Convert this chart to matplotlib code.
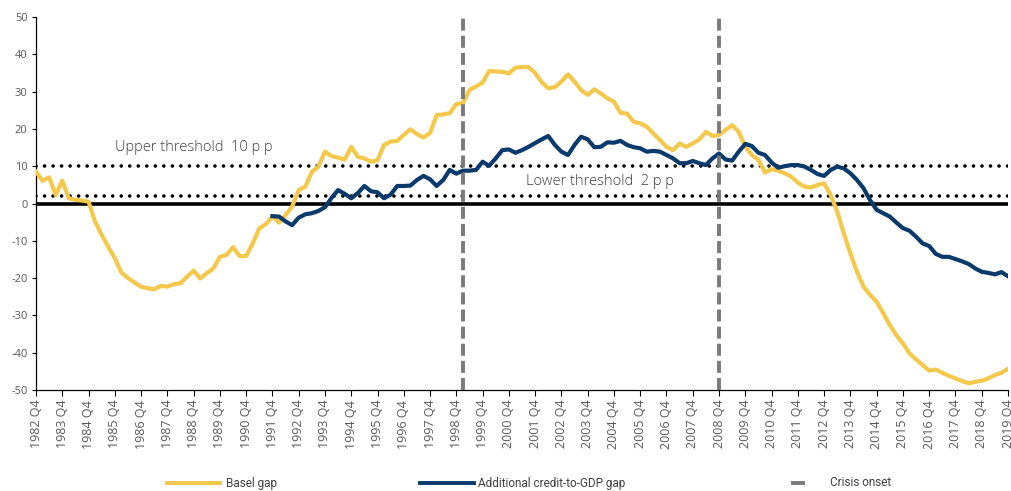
import numpy as np
import matplotlib.pyplot as plt
from matplotlib.lines import Line2D

plt.rcParams['axes.unicode_minus'] = False
plt.rcParams['font.family'] = ['Open Sans', 'DejaVu Sans']

# quarterly data, first point is 1982 Q4
start_year = 1982
basel_gap = [
    8.5, 6.1, 7.0, 2.3, 6.1, 1.4, 1.0, 0.8, 0.5, -4.9,
    -8.4, -11.6, -14.7, -18.5, -20.0, -21.2, -22.3, -22.7, -23.0, -22.1,
    -22.3, -21.6, -21.4, -19.6, -18.0, -20.1, -18.7, -17.4, -14.3, -13.8,
    -11.7, -14.1, -14.1, -10.7, -6.7, -5.5, -3.5, -5.1, -3.1, -0.8,
    3.6, 4.5, 8.5, 9.9, 13.9, 12.7, 12.3, 11.8, 15.2, 12.5,
    12.1, 11.2, 11.6, 15.7, 16.6, 16.8, 18.4, 19.9, 18.6, 17.7,
    18.9, 23.7, 23.9, 24.2, 26.7, 26.9, 30.4, 31.4, 32.4, 35.5,
    35.4, 35.3, 34.9, 36.4, 36.6, 36.6, 35.0, 32.5, 30.9, 31.2,
    32.7, 34.6, 32.7, 30.4, 29.1, 30.6, 29.5, 28.2, 27.3, 24.3,
    24.1, 21.9, 21.5, 20.6, 18.8, 17.0, 15.2, 14.3, 16.1, 15.2,
    16.1, 17.2, 19.2, 18.1, 18.4, 19.7, 21.0, 19.2, 15.2, 13.0,
    11.7, 8.3, 9.2, 8.8, 8.1, 7.2, 5.6, 4.5, 4.3, 5.0,
    5.4, 2.3, -2.2, -8.0, -13.4, -18.3, -22.3, -24.5, -26.3, -29.4,
    -32.6, -35.3, -37.5, -40.2, -41.8, -43.3, -44.8, -44.5, -45.4, -46.2,
    -46.9, -47.6, -48.2, -47.8, -47.5, -46.9, -46.0, -45.4, -44.3,
]

# starts 1991 Q4
additional_start = 36
additional_gap = [
    -3.4, -3.5, -4.8, -5.8, -3.8, -2.9, -2.6, -2.0, -1.0, 1.5,
    3.6, 2.6, 1.4, 2.8, 4.7, 3.3, 3.0, 1.4, 2.4, 4.7,
    4.7, 4.8, 6.3, 7.4, 6.5, 4.7, 6.3, 9.0, 8.0, 8.8,
    8.8, 9.0, 11.2, 10.1, 12.1, 14.3, 14.5, 13.6, 14.3, 15.2,
    16.2, 17.2, 18.1, 15.7, 13.9, 13.0, 15.7, 17.9, 17.2, 15.1,
    15.2, 16.4, 16.3, 16.8, 15.7, 15.1, 14.8, 13.9, 14.1, 13.9,
    13.0, 12.1, 10.8, 10.8, 11.4, 10.8, 10.3, 12.1, 13.4, 11.8,
    11.5, 13.9, 16.0, 15.4, 13.6, 13.0, 11.0, 9.6, 10.0, 10.3,
    10.3, 9.9, 9.0, 7.9, 7.4, 9.0, 9.9, 9.4, 8.1, 6.3,
    4.1, 0.9, -1.7, -2.6, -3.5, -5.1, -6.6, -7.3, -8.9, -10.7,
    -11.4, -13.5, -14.3, -14.3, -14.9, -15.5, -16.2, -17.4, -18.3, -18.6,
    -19.0, -18.4, -19.5,
]

upper_threshold = 10
lower_threshold = 2
crisis_onsets = ['1999 Q1', '2008 Q4']

n = len(basel_gap)
quarters = [f"{start_year + (i + 3) // 4} Q{(i + 3) % 4 + 1}" for i in range(n)]
x = np.arange(n)
x_add = np.arange(additional_start, additional_start + len(additional_gap))

yellow = '#F4C84A'
navy = '#0A3A6B'
crisis_grey = '#7a7a7a'
grey_txt = '#595959'

fig = plt.figure(figsize=(10.11, 4.91), dpi=100)
ax = fig.add_axes([36 / 1011, 1 - 390 / 491, 972 / 1011, 373 / 491])

# reference lines
dot_style = (0, (0.01, 2.35))
ax.axhline(upper_threshold, color='black', lw=2.6, linestyle=dot_style,
           dash_capstyle='round', zorder=2)
ax.axhline(lower_threshold, color='black', lw=2.6, linestyle=dot_style,
           dash_capstyle='round', zorder=2)
ax.axhline(0, color='black', lw=2.6, zorder=2)

for q in crisis_onsets:
    ax.axvline(quarters.index(q), color=crisis_grey, lw=2.8,
               linestyle=(0, (3.1, 1.3)), zorder=4)

ax.plot(x, basel_gap, color=yellow, lw=3.0, zorder=3)
ax.plot(x_add, additional_gap, color=navy, lw=3.0, zorder=3)

ax.text(12, 14.9, 'Upper threshold  10 p p', fontsize=10.5, color='#404040',
        va='center', ha='left', fontweight='light')
ax.text(74.6, 6.0, 'Lower threshold  2 p p', fontsize=10.5, color='#404040',
        va='center', ha='left', fontweight='light')

ax.set_xlim(0, n - 1)
ax.set_ylim(-50, 50)
ax.set_yticks(range(-50, 51, 10))
ax.set_xticks(x[::4])
ax.set_xticklabels(quarters[::4], rotation=90)
ax.tick_params(axis='x', labelsize=9, colors=grey_txt, length=4, width=0.8,
               color='black', pad=3)
ax.tick_params(axis='y', labelsize=8, colors=grey_txt, length=3, width=0.8,
               color='black', pad=3)
for s in ['top', 'right']:
    ax.spines[s].set_visible(False)
for s in ['left', 'bottom']:
    ax.spines[s].set_linewidth(0.9)
    ax.spines[s].set_color('black')

# legend drawn by hand to match spacing
leg_y = 8 / 491
leg_font = ['Roboto', 'DejaVu Sans']
fig.add_artist(Line2D([167 / 1011, 220 / 1011], [leg_y, leg_y], color=yellow, lw=2.8))
fig.text(226 / 1011, leg_y, 'Basel gap', fontsize=8.5, color='#404040',
         va='center', family=leg_font)
fig.add_artist(Line2D([420 / 1011, 474 / 1011], [leg_y, leg_y], color=navy, lw=2.8))
fig.text(478 / 1011, leg_y, 'Additional credit-to-GDP gap', fontsize=8.5,
         color='#404040', va='center', family=leg_font)
fig.add_artist(Line2D([793 / 1011, 803 / 1011], [leg_y, leg_y], color=crisis_grey, lw=2.8))
fig.text(830 / 1011, leg_y, 'Crisis onset', fontsize=8.5, color='#404040',
         va='center', family=leg_font)

fig.savefig('out.png', dpi=100)
